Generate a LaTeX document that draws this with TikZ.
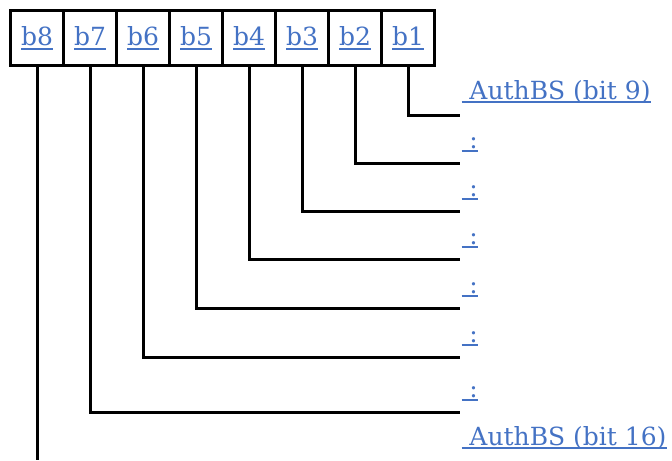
\documentclass[tikz,border=0pt]{standalone}
\usepackage{fontspec}
\setmainfont{DejaVu Serif}
\usepackage{tikz}
\usetikzlibrary{positioning}
\definecolor{link}{HTML}{4472C4}
\newcommand\ulink[1]{\leavevmode\setbox0=\hbox{#1}\rlap{\rule[-2.2pt]{\wd0}{1pt}}\box0}

\begin{document}
\begin{tikzpicture}[x=0.5pt,y=-0.5pt,line width=1.5pt,
    cell/.style={draw,minimum width=26.5pt,minimum height=27.5pt,inner sep=0pt,
                 outer sep=0pt,text=link,font=\fontsize{12.5}{15}\selectfont},
    lab/.style={anchor=base west,inner sep=0pt,text=link,
                font=\fontsize{12.5}{15}\selectfont}]
  \useasboundingbox (0,0) rectangle (672,460);
  % register cells
  \node[cell] (b8) at (37,38.5) {\ulink{b8}};
  \foreach \i/\j in {7/8,6/7,5/6,4/5,3/4,2/3,1/2}
    \node[cell,right=0pt of b\j] (b\i) {\ulink{b\i}};
  % bit labels
  \node[lab] (l9) at (460,99) {\ulink{\ AuthBS (bit 9)}};
  \foreach \k/\y in {10/148,11/196,12/244,13/293,14/342,15/397}
    \node[lab] (l\k) at (460,\y) {\ulink{\ :}};
  \node[lab] (l16) at (460,445) {\ulink{\ AuthBS (bit 16)}};
  % connectors
  \foreach \i/\y in {1/115,2/163,3/211,4/259,5/308,6/357,7/412} {
    \coordinate (e\i) at (460,\y);
    \draw (b\i.south) |- (e\i);
  }
  \coordinate (e8) at (37,460);
  \draw (b8.south) -- (e8);
\end{tikzpicture}
\end{document}
